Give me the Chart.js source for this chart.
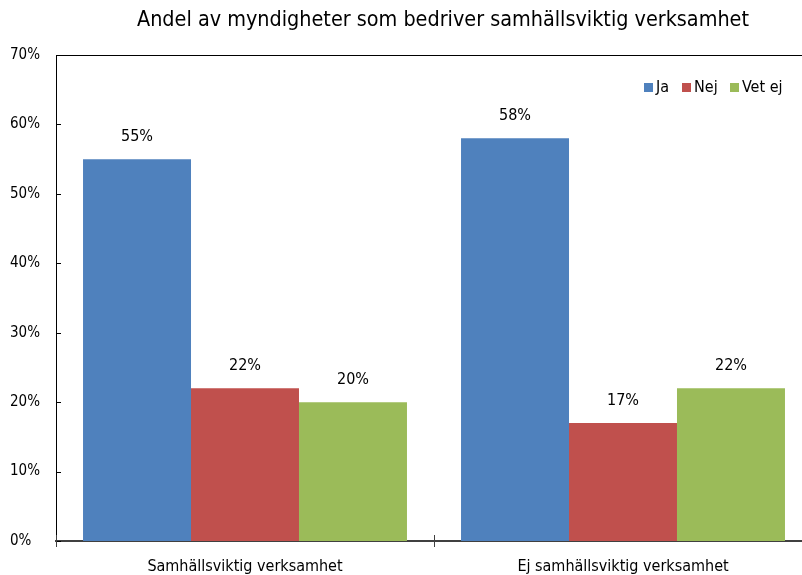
<!DOCTYPE html>
<html lang="sv">
<head>
  <meta charset="UTF-8">
  <title>Andel av myndigheter som bedriver samhällsviktig verksamhet</title>
  <style>
    body, html {
      margin: 0;
      padding: 0;
      overflow: hidden;
      background: #fff;
    }
    /* plot area runs a little past the right edge of the window, like the original */
    .wrap {
      width: 812px;
      height: 575px;
    }
  </style>
</head>
<body>
  <div class="wrap"><canvas id="chart"></canvas></div>

  <script src="https://cdn.jsdelivr.net/npm/chart.js"></script>
  <script>
    var FONT = '"Liberation Sans Narrow", "DejaVu Sans Condensed", sans-serif';

    var title = 'Andel av myndigheter som bedriver samhällsviktig verksamhet';
    var categories = ['Samhällsviktig verksamhet', 'Ej samhällsviktig verksamhet'];
    var seriesNames = ['Ja', 'Nej', 'Vet ej'];
    var ja = [55, 58];
    var nej = [22, 17];
    var vetEj = [20, 22];
    var yTicks = [0, 10, 20, 30, 40, 50, 60, 70];
    var colors = ['#4F81BD', '#C0504D', '#9BBB59'];

    // titel, etiketter ovanför staplarna, ram och legend inne i diagrammet
    var extras = {
      id: 'extras',
      afterDatasetsDraw: function (chart) {
        var ctx = chart.ctx;
        var area = chart.chartArea;
        var x = chart.scales.x;
        var y = chart.scales.y;
        ctx.save();

        // title
        ctx.font = '21.4px ' + FONT;
        ctx.fillStyle = '#000';
        ctx.textAlign = 'center';
        ctx.textBaseline = 'middle';
        ctx.fillText(title, 443, 20);

        // data labels
        ctx.font = '16px ' + FONT;
        chart.data.datasets.forEach(function (ds, i) {
          chart.getDatasetMeta(i).data.forEach(function (bar, j) {
            ctx.fillText(ds.data[j] + '%', bar.x, bar.y - 22);
          });
        });

        // top border
        ctx.strokeStyle = '#000';
        ctx.lineWidth = 1;
        ctx.beginPath();
        ctx.moveTo(area.left, area.top + 0.5);
        ctx.lineTo(area.right, area.top + 0.5);
        ctx.stroke();

        // inner y ticks
        yTicks.forEach(function (v) {
          var py = Math.round(y.getPixelForValue(v)) + 0.5;
          ctx.beginPath();
          ctx.moveTo(area.left, py);
          ctx.lineTo(area.left + 5, py);
          ctx.stroke();
        });

        // category boundary ticks across x axis
        ctx.strokeStyle = '#404040';
        var step = x.getPixelForTick(1) - x.getPixelForTick(0);
        for (var k = 0; k <= categories.length; k++) {
          var px = Math.round(x.getPixelForTick(0) - step / 2 + k * step) + 0.5;
          ctx.beginPath();
          ctx.moveTo(px, area.bottom - 6);
          ctx.lineTo(px, area.bottom + 6);
          ctx.stroke();
        }

        // legend
        ctx.font = '16px ' + FONT;
        ctx.textAlign = 'left';
        var lx = [644, 682, 730];
        seriesNames.forEach(function (name, i) {
          ctx.fillStyle = colors[i];
          ctx.fillRect(lx[i], 83, 9, 9);
          ctx.fillStyle = '#000';
          ctx.fillText(name, lx[i] + 12, 88);
        });

        ctx.restore();
      }
    };

    var ctx = document.getElementById('chart').getContext('2d');
    var chart = new Chart(ctx, {
      type: 'bar',
      data: {
        labels: categories,
        datasets: [
          { label: seriesNames[0], data: ja, backgroundColor: colors[0] },
          { label: seriesNames[1], data: nej, backgroundColor: colors[1] },
          { label: seriesNames[2], data: vetEj, backgroundColor: colors[2] }
        ]
      },
      options: {
        responsive: true,
        maintainAspectRatio: false,
        animation: false,
        datasets: {
          bar: { categoryPercentage: 0.857, barPercentage: 1.0 }
        },
        layout: {
          padding: { left: 10, right: 0, top: 55, bottom: 0 }
        },
        plugins: {
          legend: { display: false },
          tooltip: { enabled: false },
          title: { display: false }
        },
        scales: {
          x: {
            afterFit: function (scale) { scale.height = 34; },
            grid: { display: false },
            border: { display: true, color: '#404040', width: 2 },
            ticks: {
              color: '#000',
              font: { family: FONT, size: 16 },
              padding: 8
            }
          },
          y: {
            min: 0,
            max: 70,
            afterFit: function (scale) { scale.width = 46; },
            afterBuildTicks: function (scale) {
              scale.ticks = yTicks.map(function (v) { return { value: v }; });
            },
            grid: { display: false },
            border: { display: true, color: '#000', width: 1 },
            ticks: {
              color: '#000',
              crossAlign: 'far',
              font: { family: FONT, size: 15 },
              callback: function (v) { return v + '%'; }
            }
          }
        }
      },
      plugins: [extras]
    });
  </script>
</body>
</html>
